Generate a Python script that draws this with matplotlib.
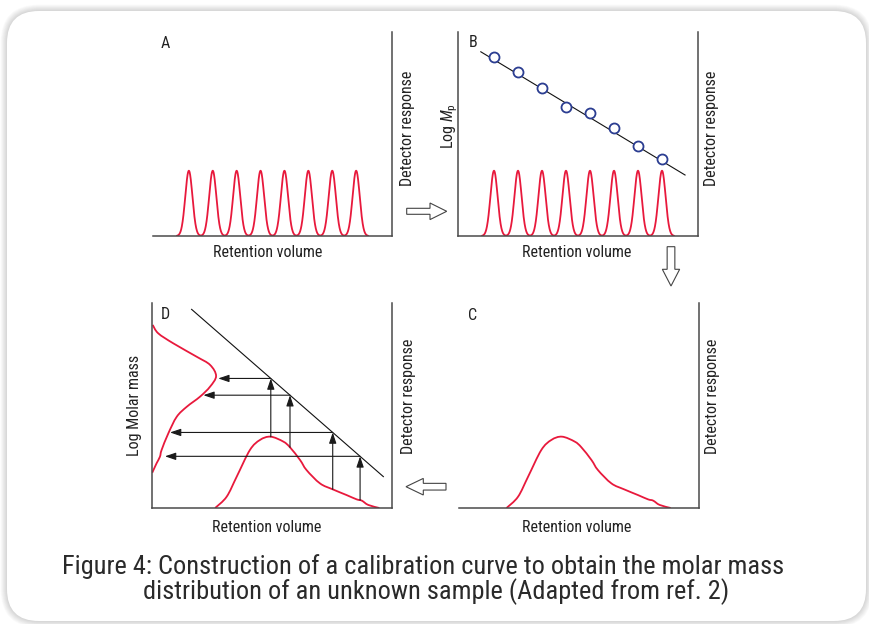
import numpy as np
import matplotlib
matplotlib.use("Agg")
import matplotlib.pyplot as plt
from matplotlib.path import Path
from matplotlib.patches import PathPatch, FancyBboxPatch, FancyArrow
import matplotlib.font_manager as fm

# ---------------- data ----------------
# calibration standards: peak positions (retention volume) and log Mp values
std_retention = [1.5, 2.5, 3.5, 4.5, 5.5, 6.5, 7.5, 8.5]
std_height = 0.32
std_sigma = 0.15
std_logMp = [0.876, 0.802, 0.727, 0.631, 0.604, 0.531, 0.441, 0.376]
cal_line_x = [0.95, 9.46]
cal_line_y = [0.903, 0.299]

# unknown sample chromatogram (retention volume, detector response)
sample_x = [2.63, 3.11, 3.53, 4.08, 4.50, 4.94, 5.47, 5.75, 6.17, 6.44,
            7.00, 7.53, 8.11, 8.53, 8.74, 9.01, 9.47]
sample_y = [0.0, 0.055, 0.153, 0.283, 0.332, 0.348, 0.324, 0.296, 0.234,
            0.185, 0.120, 0.091, 0.063, 0.042, 0.036, 0.015, 0.0]
sample_shift_C = 0.65   # panel C shows the same chromatogram shifted left

# calibration line used in panel D
calD_x = [1.65, 9.64]
calD_y = [0.969, 0.153]

# molar mass distribution (amount, log molar mass)
mmd_x = [0.03, 0.26, 0.89, 1.86, 2.42, 2.67, 2.42, 2.00, 1.45, 1.03,
         0.68, 0.40, 0.33, 0.19, 0.01]
mmd_y = [0.893, 0.852, 0.803, 0.738, 0.698, 0.644, 0.592, 0.543, 0.494,
         0.445, 0.364, 0.283, 0.250, 0.218, 0.172]

# slices converted with the calibration line
slice_x = [4.95, 5.75, 7.53, 8.67]
slice_tip_x = [2.76, 2.14, 0.75, 0.54]

panel_letters = ["A", "B", "C", "D"]
xlabel_text = "Retention volume"
ylabel_right = "Detector response"
caption1 = "Figure 4: Construction of a calibration curve to obtain the molar mass"
caption2 = "distribution of an unknown sample (Adapted from ref. 2)"

# ---------------- style ----------------
names = {f.name for f in fm.fontManager.ttflist}
FONT = "DejaVu Sans"
for cand in ["Liberation Sans Narrow", "Roboto Condensed", "Liberation Sans", "Roboto"]:
    if cand in names:
        FONT = cand
        break
plt.rcParams["font.family"] = [FONT, "DejaVu Sans"]
plt.rcParams["mathtext.fontset"] = "custom"
plt.rcParams["mathtext.rm"] = FONT
plt.rcParams["mathtext.it"] = FONT + ":italic"

RED = "#e8193c"
AXC = "#4a4a4a"
TXT = "#222222"
BLUE = "#2b3d91"

W, H = 870, 624
fig = plt.figure(figsize=(W / 100, H / 100), dpi=100, facecolor="white")

# background frame (pixel coordinates, decoration only)
bg = fig.add_axes([0, 0, 1, 1], zorder=0)
bg.set_xlim(0, W)
bg.set_ylim(H, 0)
bg.axis("off")
bx0, by0, bx1, by1 = 7, 11, 866, 621
for i in range(8, 0, -1):
    bg.add_patch(FancyBboxPatch((bx0 - i * 0.8, by0 - i * 0.8),
                                (bx1 - bx0) + i * 1.6, (by1 - by0) + i * 1.6,
                                boxstyle=f"round,pad=0,rounding_size={32 + i * 0.8}",
                                fc="#000000", ec="none", alpha=0.018))
bg.add_patch(FancyBboxPatch((bx0, by0), bx1 - bx0, by1 - by0,
                            boxstyle="round,pad=0,rounding_size=32",
                            fc="white", ec="none"))

# hollow process arrows
arr_kw = dict(length_includes_head=True, fc="white", ec="#444444", lw=0.8)
bg.add_patch(FancyArrow(406.7, 211.3, 40, 0, width=6.0, head_width=16.6,
                        head_length=16.7, **arr_kw))
bg.add_patch(FancyArrow(671.0, 246.7, 0, 39.3, width=7.7, head_width=17.3,
                        head_length=16.7, **arr_kw))
bg.add_patch(FancyArrow(446.0, 486.7, -40, 0, width=6.7, head_width=16.6,
                        head_length=17.3, **arr_kw))


def panel(px_left, px_top, px_w, px_h, left_spine):
    ax = fig.add_axes([px_left / W, 1 - (px_top + px_h) / H, px_w / W, px_h / H],
                      zorder=2)
    ax.set_facecolor("none")
    ax.set_xlim(0, 10)
    ax.set_ylim(0, 1)
    ax.set_xticks([])
    ax.set_yticks([])
    ax.spines["top"].set_visible(False)
    ax.spines["left"].set_visible(left_spine)
    for s in ["left", "bottom", "right"]:
        ax.spines[s].set_color(AXC)
        ax.spines[s].set_linewidth(1.1)
    return ax


def smooth_path(xs, ys):
    pts = np.column_stack([xs, ys]).astype(float)
    verts = [pts[0]]
    codes = [Path.MOVETO]
    n = len(pts)
    for i in range(n - 1):
        p0 = pts[i - 1] if i > 0 else pts[i]
        p1 = pts[i]
        p2 = pts[i + 1]
        p3 = pts[i + 2] if i + 2 < n else pts[i + 1]
        c1 = p1 + (p2 - p0) / 6.0
        c2 = p2 - (p3 - p1) / 6.0
        verts += [c1, c2, p2]
        codes += [Path.CURVE4] * 3
    return Path(verts, codes)


def chromatogram(ax):
    x = np.linspace(1.0, 9.0, 1200)
    y = np.zeros_like(x)
    for c in std_retention:
        y += std_height * np.exp(-0.5 * ((x - c) / std_sigma) ** 2)
    ax.plot(x, y, color=RED, lw=1.3, solid_capstyle="round")


lab_kw = dict(fontsize=11.5, color=TXT, ha="center", va="center")

# ---- Panel A ----
axA = panel(153, 32, 239, 204, False)
chromatogram(axA)
axA.text(0.05, 0.946, panel_letters[0], transform=axA.transAxes, **lab_kw)
axA.text(0.48, -0.083, xlabel_text, transform=axA.transAxes, **lab_kw)
axA.text(1.063, 0.53, ylabel_right, rotation=90, transform=axA.transAxes, **lab_kw)

# ---- Panel B ----
axB = panel(458, 32, 240, 204, True)
chromatogram(axB)
axB.plot(cal_line_x, cal_line_y, color="#111111", lw=0.8)
axB.plot(std_retention, std_logMp, ls="none", marker="o", ms=7.2, mfc="white",
         mec=BLUE, mew=1.3)
axB.text(0.0625, 0.947, panel_letters[1], transform=axB.transAxes, **lab_kw)
axB.text(0.495, -0.083, xlabel_text, transform=axB.transAxes, **lab_kw)
axB.text(1.057, 0.53, ylabel_right, rotation=90, transform=axB.transAxes, **lab_kw)
axB.text(-0.036, 0.54, r"Log $M_\mathregular{p}$", rotation=90,
         transform=axB.transAxes, **lab_kw)

# ---- Panel C ----
axC = panel(459, 303, 240, 205, False)
axC.set_xlim(sample_shift_C, 10 + sample_shift_C)
axC.add_patch(PathPatch(smooth_path(sample_x, sample_y), fc="none", ec=RED, lw=1.3))
axC.text(0.057, 0.94, panel_letters[2], transform=axC.transAxes, **lab_kw)
axC.text(0.49, -0.096, xlabel_text, transform=axC.transAxes, **lab_kw)
axC.text(1.057, 0.543, ylabel_right, rotation=90, transform=axC.transAxes, **lab_kw)

# ---- Panel D ----
axD = panel(152, 303, 240, 205, True)
axD.add_patch(PathPatch(smooth_path(sample_x, sample_y), fc="none", ec=RED, lw=1.3))
axD.add_patch(PathPatch(smooth_path(mmd_x, mmd_y), fc="none", ec=RED, lw=1.3))
axD.plot(calD_x, calD_y, color="#111111", lw=0.8)
slope = (calD_y[1] - calD_y[0]) / (calD_x[1] - calD_x[0])
akw = dict(arrowstyle="-|>,head_length=0.65,head_width=0.22", color="#1a1a1a",
           lw=0.8, shrinkA=0, shrinkB=0, mutation_scale=10)
for sx, tx in zip(slice_x, slice_tip_x):
    y0 = float(np.interp(sx, sample_x, sample_y))
    y1 = calD_y[0] + slope * (sx - calD_x[0])
    axD.annotate("", xy=(sx, y1), xytext=(sx, y0), arrowprops=akw)
    axD.annotate("", xy=(tx, y1), xytext=(sx, y1), arrowprops=akw)
axD.text(0.054, 0.946, panel_letters[3], transform=axD.transAxes, **lab_kw)
axD.text(0.478, -0.096, xlabel_text, transform=axD.transAxes, **lab_kw)
axD.text(1.067, 0.543, ylabel_right, rotation=90, transform=axD.transAxes, **lab_kw)
axD.text(-0.071, 0.50, "Log Molar mass", rotation=90, transform=axD.transAxes, **lab_kw)

# ---- caption ----
fig.text(62 / W, 1 - 567 / H, caption1, fontsize=19, color="#2a2a2a",
         ha="left", va="center")
fig.text(143 / W, 1 - 592 / H, caption2, fontsize=19, color="#2a2a2a",
         ha="left", va="center")

fig.savefig("out.png", dpi=100, facecolor="white")
